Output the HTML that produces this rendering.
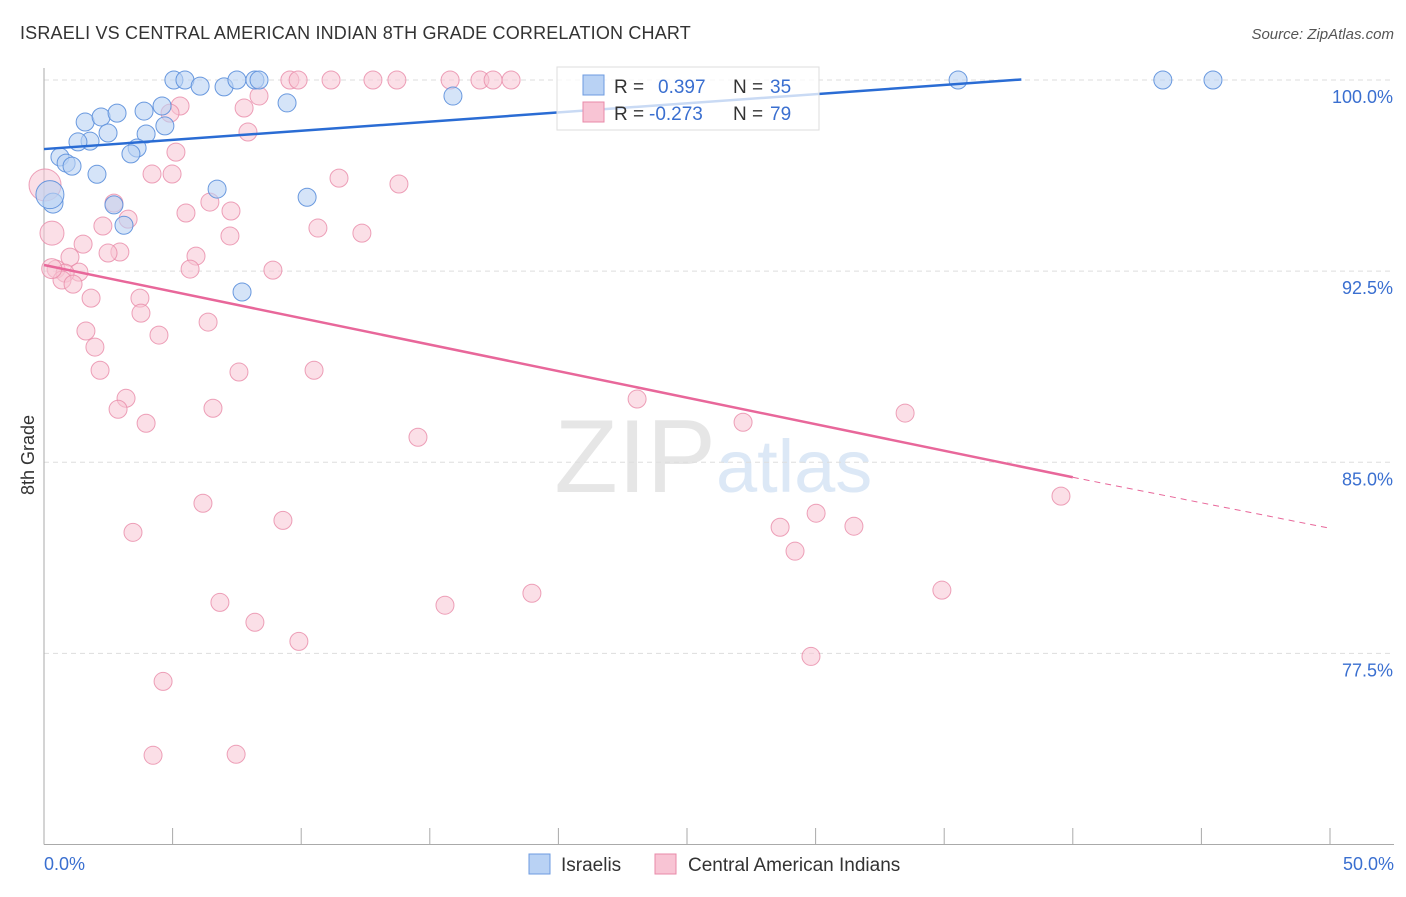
<!DOCTYPE html>
<html><head><meta charset="utf-8"><style>
body{margin:0;background:#fff;font-family:"Liberation Sans",sans-serif;}
svg text{font-family:"Liberation Sans",sans-serif;}
</style></head><body>
<svg id="chart" width="1406" height="892" xmlns="http://www.w3.org/2000/svg">
<text x="20" y="39" font-size="18" letter-spacing="0.18" fill="#333">ISRAELI VS CENTRAL AMERICAN INDIAN 8TH GRADE CORRELATION CHART</text>
<text x="1394" y="39" font-size="15" fill="#555" text-anchor="end" font-style="italic">Source: ZipAtlas.com</text>
<text x="716" y="492" font-size="104" fill="#e6e6e6" text-anchor="end" font-family="Liberation Serif">ZIP</text>
<text x="716" y="492" font-size="74" fill="#dce8f6">atlas</text>
<g id="grid"></g>
<g id="axes"></g>
<g id="marks"></g>
<text transform="translate(34,455) rotate(-90)" font-size="18" fill="#333" text-anchor="middle">8th Grade</text>
<g>
<rect x="557" y="67" width="262" height="63" fill="#fff" fill-opacity="0.75" stroke="#ddd"/>
<rect x="583" y="75" width="21" height="20" fill="#b9d2f4" stroke="#6d9be0"/>
<rect x="583" y="102" width="21" height="20" fill="#f8c4d4" stroke="#e88aa8"/>
<text x="614" y="93" font-size="19" fill="#333">R = </text><text x="658" y="93" font-size="19" fill="#3a6fd0">0.397</text>
<text x="733" y="93" font-size="19" fill="#333">N = </text><text x="770" y="93" font-size="19" fill="#3a6fd0">35</text>
<text x="614" y="120" font-size="19" fill="#333">R = </text><text x="649" y="120" font-size="19" fill="#3a6fd0">-0.273</text>
<text x="733" y="120" font-size="19" fill="#333">N = </text><text x="770" y="120" font-size="19" fill="#3a6fd0">79</text>
</g>
<g>
<rect x="529" y="854" width="21" height="20" fill="#b9d2f4" stroke="#6d9be0"/>
<text x="561" y="871" font-size="19" fill="#333">Israelis</text>
<rect x="655" y="854" width="21" height="20" fill="#f8c4d4" stroke="#e88aa8"/>
<text x="688" y="871" font-size="19" fill="#333">Central American Indians</text>
</g>
</svg>
<script>
const yTicks=[100,92.5,85,77.5];
const blueX=[5.05,5.48,6.07,7.0,7.5,8.2,8.36,9.45,15.9,35.54,43.5,45.45,1.6,2.22,2.84,3.89,4.59,4.7,3.97,3.62,3.38,2.49,1.79,1.32,0.62,0.86,1.09,2.06,6.73,10.23,2.72,3.11,7.7,0.35,0.23];
const blueY=[100,100,99.76,99.73,100,100,100,99.1,99.37,100,100,100,98.35,98.55,98.7,98.78,98.98,98.2,97.88,97.33,97.1,97.92,97.6,97.57,96.98,96.74,96.62,96.3,95.72,95.4,95.1,94.3,91.68,95.17,95.5];
const blueR=[9,9,9,9,9,9,9,9,9,9,9,9,9,9,9,9,9,9,9,9,9,9,9,9,9,9,9,9,9,9,9,9,9,10,14];
const pinkX=[9.56,9.88,11.16,12.79,13.72,15.79,16.95,17.46,18.16,5.29,4.9,7.78,8.36,7.93,5.13,4.2,4.98,11.47,13.8,2.72,3.27,6.45,5.52,7.27,2.29,10.65,12.36,7.23,0.31,0.04,1.52,2.95,2.49,5.91,1.01,5.68,8.9,0.47,1.36,0.82,0.7,1.13,1.83,3.73,3.77,6.38,1.63,4.47,1.98,2.18,7.58,10.5,3.19,2.88,6.57,3.97,14.54,23.06,27.18,33.48,6.18,3.46,9.29,39.54,28.62,30.02,31.49,29.2,6.84,15.59,18.97,34.91,8.2,9.91,29.82,4.63,4.24,7.47,0.3];
const pinkY=[100,100,100,100,100,100,100,100,100,98.98,98.7,98.9,99.37,97.96,97.17,96.31,96.31,96.15,95.92,95.17,94.54,95.21,94.78,94.86,94.27,94.19,93.99,93.88,93.99,95.88,93.56,93.25,93.21,93.09,93.05,92.58,92.54,92.58,92.46,92.42,92.15,91.99,91.44,91.44,90.85,90.5,90.15,89.99,89.52,88.61,88.54,88.61,87.51,87.08,87.12,86.53,85.98,87.48,86.57,86.93,83.39,82.25,82.72,83.67,82.45,83.0,82.49,81.51,79.5,79.39,79.86,79.98,78.72,77.97,77.38,76.4,73.5,73.54,92.6];
const pinkR=[9,9,9,9,9,9,9,9,9,9,9,9,9,9,9,9,9,9,9,9,9,9,9,9,9,9,9,9,12,16,9,9,9,9,9,9,9,9,9,9,9,9,9,9,9,9,9,9,9,9,9,9,9,9,9,9,9,9,9,9,9,9,9,9,9,9,9,9,9,9,9,9,9,9,9,9,9,9,10];
const blueTrend=[[0,97.29],[38,100.02]];
const pinkTrend=[[0,92.74],[40,84.41]];
const pinkTrendDash=[[40,84.41],[50,82.41]];
const xMin=0,xMax=50,yMin=70,yMax=100;
const L=44,R=1330,T=80,B=844.5;
const sx=v=>L+(v-xMin)/(xMax-xMin)*(R-L);
const sy=v=>T+(yMax-v)/(yMax-yMin)*(B-T);
const NS="http://www.w3.org/2000/svg";
function mk(tag,parent,attrs){const e=document.createElementNS(NS,tag);for(const k in attrs)e.setAttribute(k,attrs[k]);parent.appendChild(e);return e;}
const grid=document.getElementById('grid'),axes=document.getElementById('axes'),marks=document.getElementById('marks');
yTicks.forEach(t=>{
 const l=mk('line',grid,{x1:L,x2:1394,y1:sy(t),y2:sy(t),stroke:'#ddd','stroke-dasharray':'5,4'});
 
 
 const tx=mk('text',grid,{x:1393,y:sy(t)+23,'font-size':18,fill:'#3a6fd0','text-anchor':'end'});
 tx.textContent=t.toFixed(1)+'%';
 
 
});
const ax=mk('line',axes,{x1:L,x2:L,y1:68,y2:B,stroke:'#aaa'});


const bx=mk('line',axes,{x1:L,x2:1394,y1:B,y2:B,stroke:'#aaa'});


for(let i=0;i<=10;i++){
 const v=xMin+i*(xMax-xMin)/10;
 const tk=mk('line',axes,{x1:sx(v),x2:sx(v),y1:828,y2:B,stroke:'#aaa'});
 
 
}
[[xMin,'start',44],[xMax,'end',1394]].forEach(([v,a,x])=>{
 const t=mk('text',axes,{x:x,y:870,'font-size':18,fill:'#3a6fd0','text-anchor':a});
 t.textContent=v.toFixed(1)+'%';
 
 
});
pinkX.forEach((x,i)=>{
 const c=mk('circle',marks,{cx:sx(x),cy:sy(pinkY[i]),r:pinkR[i],fill:'#f8c4d4','fill-opacity':0.55,stroke:'#e88aa8','stroke-opacity':0.8});
 
 
});
blueX.forEach((x,i)=>{
 const c=mk('circle',marks,{cx:sx(x),cy:sy(blueY[i]),r:blueR[i],fill:'#b9d2f4','fill-opacity':0.6,stroke:'#5b8fdc','stroke-opacity':0.9});
 
 
});
const bl=mk('line',marks,{x1:sx(blueTrend[0][0]),y1:sy(blueTrend[0][1]),x2:sx(blueTrend[1][0]),y2:sy(blueTrend[1][1]),stroke:'#2a6cd4','stroke-width':2.5});


const pl=mk('line',marks,{x1:sx(pinkTrend[0][0]),y1:sy(pinkTrend[0][1]),x2:sx(pinkTrend[1][0]),y2:sy(pinkTrend[1][1]),stroke:'#e8679a','stroke-width':2.5});


const pd=mk('line',marks,{x1:sx(pinkTrendDash[0][0]),y1:sy(pinkTrendDash[0][1]),x2:sx(pinkTrendDash[1][0]),y2:sy(pinkTrendDash[1][1]),stroke:'#e8679a','stroke-width':1,'stroke-dasharray':'6,5'});


</script>
</body></html>
